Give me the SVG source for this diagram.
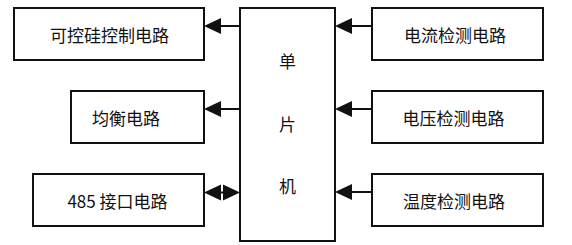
<svg xmlns="http://www.w3.org/2000/svg" width="572" height="245" viewBox="0 0 572 245">
<style>
.box{fill:#fff;stroke:#111;stroke-width:2}
.t{font-family:"Noto Sans CJK SC","Liberation Sans",sans-serif;font-size:17px;fill:#111;text-anchor:middle;dominant-baseline:central}
.ln{stroke:#111;stroke-width:2;fill:none}
.ah{fill:#111}
</style>
<rect width="572" height="245" fill="#fff"/>
<g id="mcu"><rect class="box" x="240" y="8" width="95" height="233"/>
<text class="t" x="287.5" y="60">单</text><text class="t" x="287.5" y="123">片</text><text class="t" x="287.5" y="185">机</text></g>
<g id="scr"><rect class="box" x="14" y="8" width="190" height="52"/><text class="t" x="109.5" y="34">可控硅控制电路</text></g>
<g id="balance"><rect class="box" x="71" y="91" width="133" height="52"/><text class="t" x="126" y="117">均衡电路</text></g>
<g id="rs485"><rect class="box" x="33" y="174" width="171" height="52"/><text class="t" x="117.5" y="200">485 接口电路</text></g>
<g id="current"><rect class="box" x="372" y="8" width="171" height="52"/><text class="t" x="455" y="34">电流检测电路</text></g>
<g id="voltage"><rect class="box" x="372" y="91" width="171" height="52"/><text class="t" x="453.5" y="117">电压检测电路</text></g>
<g id="temp"><rect class="box" x="372" y="174" width="171" height="52"/><text class="t" x="454" y="200">温度检测电路</text></g>
<g id="connectors">
<line class="ln" x1="240" y1="26" x2="218" y2="26"/><polygon class="ah" points="204,26 221,18 221,34"/>
<line class="ln" x1="240" y1="109" x2="218" y2="109"/><polygon class="ah" points="204,109 221,101 221,117"/>
<line class="ln" x1="220" y1="192.5" x2="224" y2="192.5"/><polygon class="ah" points="204,192.5 221,184.5 221,200.5"/><polygon class="ah" points="240,192.5 223,184.5 223,200.5"/>
<line class="ln" x1="372" y1="26" x2="350" y2="26"/><polygon class="ah" points="335,26 352,18 352,34"/>
<line class="ln" x1="372" y1="109" x2="350" y2="109"/><polygon class="ah" points="335,109 352,101 352,117"/>
<line class="ln" x1="372" y1="192" x2="350" y2="192"/><polygon class="ah" points="335,192 352,184 352,200"/>
</g>
</svg>
